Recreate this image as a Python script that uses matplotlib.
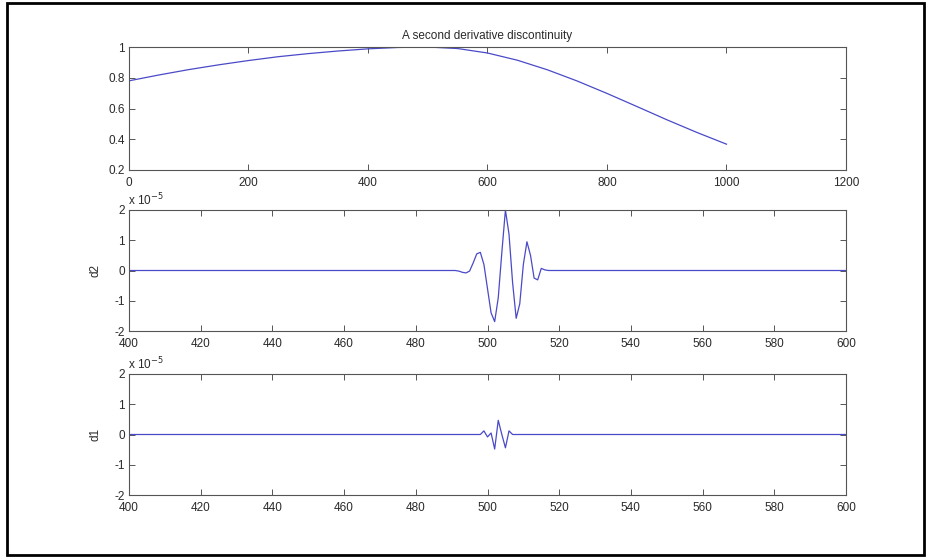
import matplotlib
matplotlib.use("Agg")
import matplotlib.pyplot as plt
from matplotlib.patches import Rectangle

# Signal with a second derivative discontinuity at x = 500
sig_x = [0, 50, 100, 150, 200, 250, 300, 350, 400, 450, 500,
         550, 600, 650, 700, 750, 800, 850, 900, 950, 1000]
sig_y = [0.780, 0.818, 0.853, 0.884, 0.912, 0.937, 0.957, 0.974, 0.988, 0.997, 1.000,
         0.990, 0.961, 0.914, 0.852, 0.779, 0.698, 0.613, 0.527, 0.445, 0.368]

# Level-2 detail coefficients (units of 1e-5)
d2_x = [400, 490, 491, 492, 493, 494, 495, 496, 497, 498, 499, 500, 501, 502, 503,
        504, 505, 506, 507, 508, 509, 510, 511, 512, 513, 514, 515, 516, 517, 518, 600]
d2_y = [0, 0, 0, -0.02, -0.06, -0.08, -0.02, 0.25, 0.55, 0.60, 0.20, -0.60, -1.40, -1.69, -0.90,
        0.60, 2.00, 1.20, -0.40, -1.58, -1.10, 0.20, 0.95, 0.50, -0.25, -0.31, 0.07, 0.02, 0, 0, 0]

# Level-1 detail coefficients (units of 1e-5)
d1_x = [400, 497, 498, 499, 500, 501, 502, 503, 504, 505, 506, 507, 508, 600]
d1_y = [0, 0, 0, 0.12, -0.08, 0.05, -0.48, 0.47, 0.0, -0.44, 0.12, 0.0, 0, 0]

top_xticks = [0, 200, 400, 600, 800, 1000, 1200]
top_yticks = [0.2, 0.4, 0.6, 0.8, 1]
det_xticks = list(range(400, 601, 20))
det_yticks = [-2, -1, 0, 1, 2]

plt.rcParams["font.family"] = ["Liberation Sans", "DejaVu Sans"]
plt.rcParams["font.size"] = 8.5
plt.rcParams["axes.unicode_minus"] = False

LINE = "#4a4ac8"
TXT = "#2a2a2a"
EDGE = "#555555"

fig = plt.figure(figsize=(9.28, 5.58), dpi=100)
fig.patch.set_facecolor("white")

W, H = 928.0, 558.0
left = 129 / W
width = (846 - 129) / W


def make_axes(top_px, bottom_px):
    ax = fig.add_axes([left, 1 - bottom_px / H, width, (bottom_px - top_px) / H])
    for s in ax.spines.values():
        s.set_color(EDGE)
        s.set_linewidth(0.8)
    ax.tick_params(direction="in", length=4, width=0.7, top=True, right=True,
                   colors=EDGE, labelcolor=TXT, labelsize=8.5)
    ax.tick_params(axis="x", pad=5)
    ax.tick_params(axis="y", pad=3)
    return ax


ax1 = make_axes(47, 170)
ax1.plot(sig_x, sig_y, color=LINE, lw=0.9)
ax1.set_xlim(0, 1200)
ax1.set_ylim(0.2, 1)
ax1.set_xticks(top_xticks)
ax1.set_yticks(top_yticks)
ax1.set_yticklabels(["0.2", "0.4", "0.6", "0.8", "1"])
ax1.set_title("A second derivative discontinuity", fontsize=8.5, color=TXT, pad=6)

ax2 = make_axes(210, 331)
ax2.plot(d2_x, d2_y, color=LINE, lw=0.9)
ax2.set_ylabel("d2", color=TXT, fontsize=8.5)

ax3 = make_axes(374, 495)
ax3.plot(d1_x, d1_y, color=LINE, lw=0.9)
ax3.set_ylabel("d1", color=TXT, fontsize=8.5)

for ax in (ax2, ax3):
    ax.set_xlim(400, 600)
    ax.set_ylim(-2, 2)
    ax.set_xticks(det_xticks)
    ax.set_yticks(det_yticks)
    ax.yaxis.set_label_coords(-27 / 717, 0.5)
    ax.text(-0.002, 1.01, r"x 10$^{-5}$", transform=ax.transAxes,
            ha="left", va="bottom", fontsize=8.5, color=TXT)

# Outer frame
fig.patches.append(Rectangle((7 / W, 1 - 555 / H), (924 - 7) / W, (555 - 3) / H,
                             transform=fig.transFigure, fill=False,
                             edgecolor="black", linewidth=2))

fig.savefig("out.png", dpi=100, facecolor="white")
